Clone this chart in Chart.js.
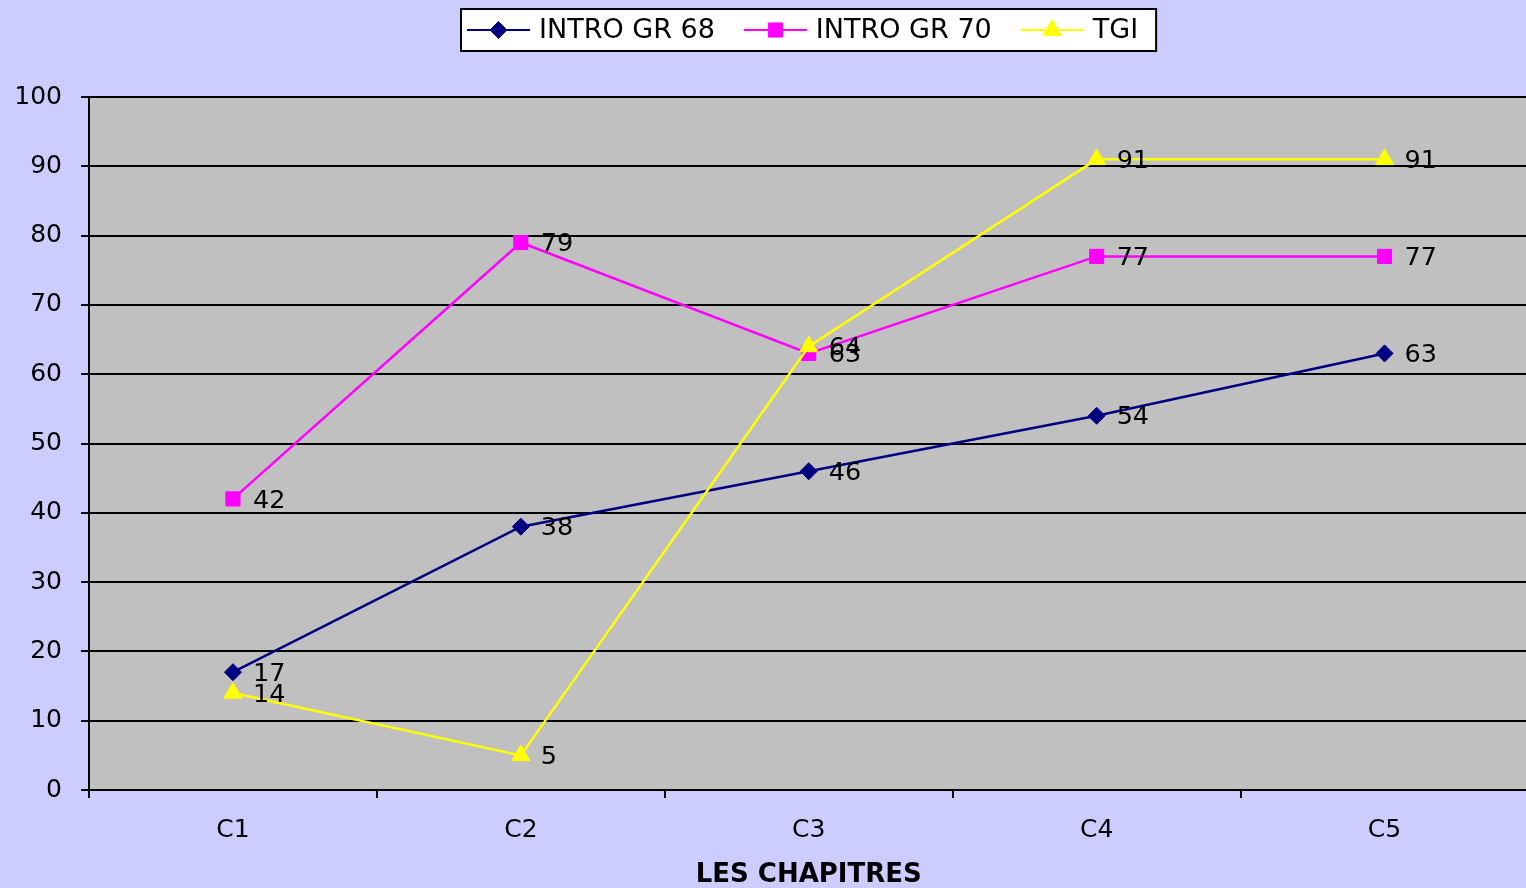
<!DOCTYPE html>
<html>
<head>
<meta charset="utf-8">
<title>Les chapitres</title>
<script src="https://cdn.jsdelivr.net/npm/chart.js@4/dist/chart.umd.min.js"></script>
<style>
  html, body { margin: 0; padding: 0; background: #ccccff; overflow: hidden; }
  canvas { display: block; }
</style>
</head>
<body>
<canvas id="chapChart" width="1540" height="888"></canvas>
<script>
const categories = ['C1', 'C2', 'C3', 'C4', 'C5'];
const intro68 = [17, 38, 46, 54, 63];
const intro70 = [42, 79, 63, 77, 77];
const tgi = [14, 5, 64, 91, 91];
const seriesNames = ['INTRO GR 68', 'INTRO GR 70', 'TGI'];
const yMin = 0, yMax = 100, yStep = 10;
const xTitle = 'LES CHAPITRES';

// grey plot area behind the lines
const plotBg = {
  id: 'plotBg',
  beforeDraw(chart) {
    const a = chart.chartArea, ctx = chart.ctx;
    ctx.save();
    ctx.fillStyle = '#c0c0c0';
    ctx.fillRect(a.left, a.top, a.right - a.left, a.bottom - a.top);
    ctx.restore();
  }
};

// value next to every point
const valueLabels = {
  id: 'valueLabels',
  afterDatasetsDraw(chart) {
    const ctx = chart.ctx;
    ctx.save();
    ctx.font = '25.5px "DejaVu Sans"';
    ctx.fillStyle = '#000';
    ctx.textAlign = 'left';
    ctx.textBaseline = 'middle';
    chart.data.datasets.forEach((ds, i) => {
      chart.getDatasetMeta(i).data.forEach((pt, j) => {
        ctx.fillText(String(ds.data[j]), pt.x + 20, pt.y + 2);
      });
    });
    ctx.restore();
  }
};

// boxed legend with line + marker samples, centred over the plot
const boxLegend = {
  id: 'boxLegend',
  afterDraw(chart) {
    const ctx = chart.ctx, a = chart.chartArea;
    ctx.save();
    ctx.font = '27px "DejaVu Sans"';
    const sample = 63, gapText = 9, gapItem = 29, padL = 6, padR = 18;
    const items = chart.data.datasets.map(ds => ({ ds, w: ctx.measureText(ds.label).width }));
    const total = padL + padR + items.reduce((s, it) => s + sample + gapText + it.w, 0) + gapItem * (items.length - 1);
    const x0 = Math.round((a.left + a.right) / 2 - total / 2);
    const top = 9, h = 42, cy = top + h / 2;
    ctx.fillStyle = '#fff';
    ctx.fillRect(x0, top, total, h);
    ctx.strokeStyle = '#000';
    ctx.lineWidth = 2;
    ctx.strokeRect(x0, top, total, h);
    let x = x0 + padL;
    items.forEach(it => {
      const ds = it.ds;
      ctx.strokeStyle = ds.borderColor;
      ctx.lineWidth = 2;
      ctx.beginPath();
      ctx.moveTo(x, cy);
      ctx.lineTo(x + sample, cy);
      ctx.stroke();
      ctx.fillStyle = ds.pointBackgroundColor;
      ctx.lineWidth = 1;
      Chart.helpers.drawPoint(ctx, { pointStyle: ds.pointStyle, radius: ds.pointRadius, borderWidth: 1, rotation: 0 }, x + sample / 2, cy);
      ctx.fillStyle = '#000';
      ctx.textAlign = 'left';
      ctx.textBaseline = 'middle';
      ctx.fillText(ds.label, x + sample + gapText, cy + 1);
      x += sample + gapText + it.w + gapItem;
    });
    ctx.restore();
  }
};

function series(label, data, color, style, radius, order) {
  return {
    label: label,
    data: data,
    borderColor: color,
    backgroundColor: color,
    borderWidth: 2.5,
    pointStyle: style,
    pointRadius: radius,
    pointHoverRadius: radius,
    pointBackgroundColor: color,
    pointBorderColor: color,
    pointBorderWidth: 1,
    tension: 0,
    fill: false,
    order: order
  };
}

const ctx = document.getElementById('chapChart').getContext('2d');
new Chart(ctx, {
  type: 'line',
  data: {
    labels: categories,
    datasets: [
      series(seriesNames[0], intro68, '#000080', 'rectRot', 8.5, 3),
      series(seriesNames[1], intro70, '#ff00ff', 'rect', 10, 2),
      series(seriesNames[2], tgi, '#ffff00', 'triangle', 10.5, 1)
    ]
  },
  options: {
    responsive: false,
    animation: false,
    layout: { padding: { top: 97, right: 3, left: 0, bottom: 0 } },
    scales: {
      x: {
        offset: true,
        grid: {
          display: true,
          offset: true,
          drawOnChartArea: false,
          drawTicks: true,
          tickLength: 8,
          color: '#000',
          lineWidth: 2
        },
        border: { display: true, color: '#000', width: 2 },
        ticks: { color: '#000', font: { family: 'DejaVu Sans', size: 25 }, padding: 17 },
        title: {
          display: true,
          text: xTitle,
          color: '#000',
          font: { family: 'DejaVu Sans', size: 26, weight: 'bold', lineHeight: 1.0 },
          padding: { top: 0, bottom: 0 }
        },
        afterFit(scale) { scale.height = 98; }
      },
      y: {
        min: yMin,
        max: yMax,
        grid: { color: '#000', lineWidth: 2, drawTicks: true, tickLength: 8 },
        border: { display: true, color: '#000', width: 2 },
        ticks: { stepSize: yStep, color: '#000', font: { family: 'DejaVu Sans', size: 25 }, padding: 19 },
        afterFit(scale) { scale.width = 89; }
      }
    },
    plugins: {
      legend: { display: false },
      tooltip: { enabled: false }
    }
  },
  plugins: [plotBg, valueLabels, boxLegend]
});
</script>
</body>
</html>
